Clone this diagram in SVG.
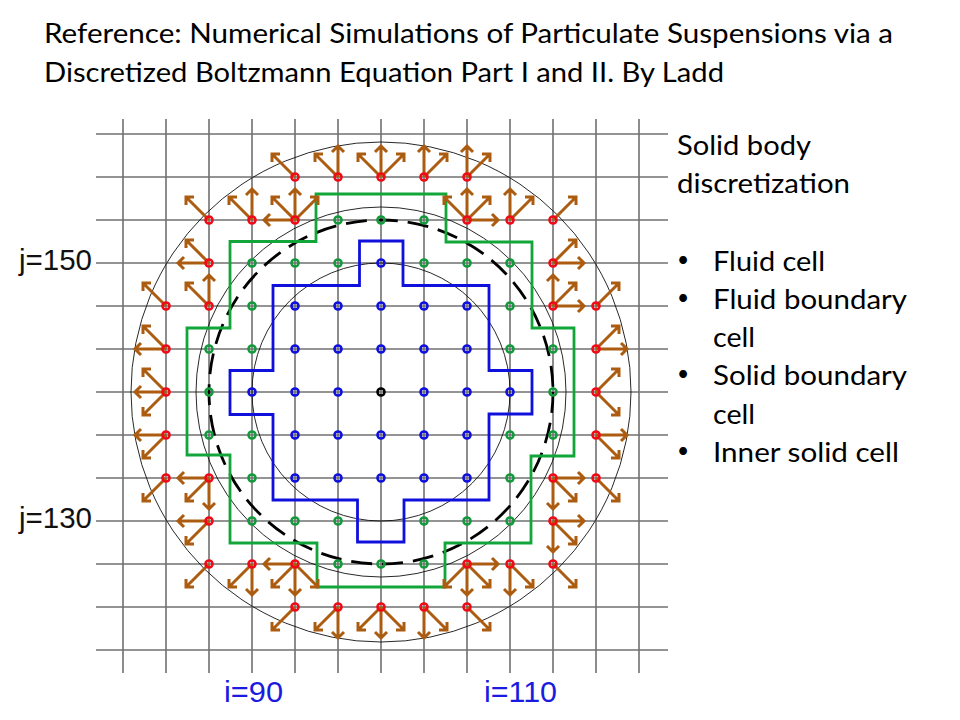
<svg xmlns="http://www.w3.org/2000/svg" width="960" height="720" viewBox="0 0 960 720">
<style>
.bg{fill:#fff}
.grid line{stroke:#707070;stroke-width:1.6}
.c{fill:none;stroke:#111;stroke-width:.9}
.dash{fill:none;stroke:#000;stroke-width:2.8;stroke-dasharray:21 10}
.pg{fill:none;stroke:#12a53a;stroke-width:2.8}
.pb{fill:none;stroke:#1010dc;stroke-width:2.8}
.a{fill:none;stroke:#ac5c10;stroke-width:3}
.n circle{fill:none;stroke-width:2.6}
.r circle{stroke:#f00a18}
.g circle{stroke:#14993c}
.b circle{stroke:#1010dc}
.k circle{stroke:#000}
.t{font-family:"Lato","Liberation Sans",sans-serif;font-size:27px;fill:#000}
.d{font-family:"Lato","Liberation Sans",sans-serif;font-size:21px;fill:#000}
.l{font-family:"Liberation Sans",Arial,sans-serif;font-size:30px}
.lk{fill:#111}
.lb{fill:#1a1ae0}
</style>
<defs>
<path id="E" class="a" d="M0 0H31M25-6L31 0L25 6"/>
<path id="W" class="a" d="M0 0H-31M-25-6L-31 0L-25 6"/>
<path id="N" class="a" d="M0 0V-31M-6-25L0-31L6-25"/>
<path id="S" class="a" d="M0 0V31M-6 25L0 31L6 25"/>
<path id="NE" class="a" d="M0 0L23-23M15-23H23V-15"/>
<path id="NW" class="a" d="M0 0L-23-23M-15-23H-23V-15"/>
<path id="SE" class="a" d="M0 0L23 23M15 23H23V15"/>
<path id="SW" class="a" d="M0 0L-23 23M-15 23H-23V15"/>
</defs>
<rect class="bg" width="960" height="720"/>
<g id="grid" class="grid">
<line x1="123" y1="119" x2="123" y2="673"/><line x1="166" y1="119" x2="166" y2="673"/><line x1="209" y1="119" x2="209" y2="673"/><line x1="252" y1="119" x2="252" y2="673"/><line x1="295" y1="119" x2="295" y2="673"/><line x1="338" y1="119" x2="338" y2="673"/><line x1="381" y1="119" x2="381" y2="673"/><line x1="424" y1="119" x2="424" y2="673"/><line x1="467" y1="119" x2="467" y2="673"/><line x1="510" y1="119" x2="510" y2="673"/><line x1="553" y1="119" x2="553" y2="673"/><line x1="596" y1="119" x2="596" y2="673"/><line x1="639" y1="119" x2="639" y2="673"/>
<line x1="96" y1="134" x2="668" y2="134"/><line x1="96" y1="177" x2="668" y2="177"/><line x1="96" y1="220" x2="668" y2="220"/><line x1="96" y1="263" x2="668" y2="263"/><line x1="96" y1="306" x2="668" y2="306"/><line x1="96" y1="349" x2="668" y2="349"/><line x1="96" y1="392" x2="668" y2="392"/><line x1="96" y1="435" x2="668" y2="435"/><line x1="96" y1="478" x2="668" y2="478"/><line x1="96" y1="521" x2="668" y2="521"/><line x1="96" y1="564" x2="668" y2="564"/><line x1="96" y1="607" x2="668" y2="607"/><line x1="96" y1="650" x2="668" y2="650"/>
</g>
<g id="circles">
<circle class="c" cx="381" cy="392" r="250"/>
<circle class="c" cx="381" cy="392" r="185"/>
<circle class="c" cx="381" cy="392" r="129"/>
<circle class="dash" cx="381" cy="392" r="172"/>
</g>
<path id="boundary-green" class="pg" d="M316 194H446V242H532V328H574V456H531V543H445V587H317V543H230V455H187V328H230V241.500H316Z"/>
<path id="boundary-blue" class="pb" d="M359.500 241H403V285.500H489V370.500H532V414H489V500H404V542H357.500V500H273V414.500H230V370.500H273V285.500H359.500Z"/>
<g id="connectors">
<use href="#NW" x="295" y="177"/>
<use href="#NW" x="338" y="177"/><use href="#N" x="338" y="177"/>
<use href="#NW" x="381" y="177"/><use href="#N" x="381" y="177"/><use href="#NE" x="381" y="177"/>
<use href="#N" x="424" y="177"/><use href="#NE" x="424" y="177"/>
<use href="#N" x="467" y="177"/><use href="#NE" x="467" y="177"/>
<use href="#NW" x="209" y="220"/>
<use href="#NW" x="252" y="220"/><use href="#N" x="252" y="220"/>
<use href="#W" x="295" y="220"/><use href="#NW" x="295" y="220"/><use href="#N" x="295" y="220"/><use href="#NE" x="295" y="220"/>
<use href="#NW" x="467" y="220"/><use href="#N" x="467" y="220"/><use href="#NE" x="467" y="220"/><use href="#E" x="467" y="220"/>
<use href="#N" x="510" y="220"/><use href="#NE" x="510" y="220"/>
<use href="#NE" x="553" y="220"/>
<use href="#NW" x="209" y="263"/><use href="#W" x="209" y="263"/>
<use href="#NE" x="553" y="263"/><use href="#E" x="553" y="263"/>
<use href="#NW" x="166" y="306"/>
<use href="#NW" x="209" y="306"/><use href="#N" x="209" y="306"/>
<use href="#N" x="553" y="306"/><use href="#NE" x="553" y="306"/><use href="#E" x="553" y="306"/>
<use href="#NE" x="596" y="306"/>
<use href="#NW" x="166" y="349"/><use href="#W" x="166" y="349"/>
<use href="#NE" x="596" y="349"/><use href="#E" x="596" y="349"/>
<use href="#NW" x="166" y="392"/><use href="#W" x="166" y="392"/><use href="#SW" x="166" y="392"/>
<use href="#NE" x="596" y="392"/><use href="#SE" x="596" y="392"/>
<use href="#W" x="166" y="435"/><use href="#SW" x="166" y="435"/>
<use href="#E" x="596" y="435"/><use href="#SE" x="596" y="435"/>
<use href="#SW" x="166" y="478"/>
<use href="#W" x="209" y="478"/><use href="#SW" x="209" y="478"/><use href="#S" x="209" y="478"/>
<use href="#E" x="553" y="478"/><use href="#SE" x="553" y="478"/><use href="#S" x="553" y="478"/>
<use href="#SE" x="596" y="478"/>
<use href="#W" x="209" y="521"/><use href="#SW" x="209" y="521"/>
<use href="#E" x="553" y="521"/><use href="#SE" x="553" y="521"/><use href="#S" x="553" y="521"/>
<use href="#SW" x="209" y="564"/>
<use href="#SW" x="252" y="564"/><use href="#S" x="252" y="564"/>
<use href="#W" x="295" y="564"/><use href="#SW" x="295" y="564"/><use href="#S" x="295" y="564"/><use href="#SE" x="295" y="564"/>
<use href="#SW" x="467" y="564"/><use href="#S" x="467" y="564"/><use href="#SE" x="467" y="564"/><use href="#E" x="467" y="564"/>
<use href="#S" x="510" y="564"/><use href="#SE" x="510" y="564"/>
<use href="#SE" x="553" y="564"/>
<use href="#SW" x="295" y="607"/>
<use href="#SW" x="338" y="607"/><use href="#S" x="338" y="607"/>
<use href="#SW" x="381" y="607"/><use href="#S" x="381" y="607"/><use href="#SE" x="381" y="607"/>
<use href="#S" x="424" y="607"/><use href="#SE" x="424" y="607"/>
<use href="#SE" x="467" y="607"/>
</g>
<g id="nodes-fluid">
<g id="r295-177" class="n r"><circle cx="295" cy="177" r="3.500"/></g>
<g id="r338-177" class="n r"><circle cx="338" cy="177" r="3.500"/></g>
<g id="r381-177" class="n r"><circle cx="381" cy="177" r="3.500"/></g>
<g id="r424-177" class="n r"><circle cx="424" cy="177" r="3.500"/></g>
<g id="r467-177" class="n r"><circle cx="467" cy="177" r="3.500"/></g>
<g id="r209-220" class="n r"><circle cx="209" cy="220" r="3.500"/></g>
<g id="r252-220" class="n r"><circle cx="252" cy="220" r="3.500"/></g>
<g id="r295-220" class="n r"><circle cx="295" cy="220" r="3.500"/></g>
<g id="r467-220" class="n r"><circle cx="467" cy="220" r="3.500"/></g>
<g id="r510-220" class="n r"><circle cx="510" cy="220" r="3.500"/></g>
<g id="r553-220" class="n r"><circle cx="553" cy="220" r="3.500"/></g>
<g id="r209-263" class="n r"><circle cx="209" cy="263" r="3.500"/></g>
<g id="r553-263" class="n r"><circle cx="553" cy="263" r="3.500"/></g>
<g id="r166-306" class="n r"><circle cx="166" cy="306" r="3.500"/></g>
<g id="r209-306" class="n r"><circle cx="209" cy="306" r="3.500"/></g>
<g id="r553-306" class="n r"><circle cx="553" cy="306" r="3.500"/></g>
<g id="r596-306" class="n r"><circle cx="596" cy="306" r="3.500"/></g>
<g id="r166-349" class="n r"><circle cx="166" cy="349" r="3.500"/></g>
<g id="r596-349" class="n r"><circle cx="596" cy="349" r="3.500"/></g>
<g id="r166-392" class="n r"><circle cx="166" cy="392" r="3.500"/></g>
<g id="r596-392" class="n r"><circle cx="596" cy="392" r="3.500"/></g>
<g id="r166-435" class="n r"><circle cx="166" cy="435" r="3.500"/></g>
<g id="r596-435" class="n r"><circle cx="596" cy="435" r="3.500"/></g>
<g id="r166-478" class="n r"><circle cx="166" cy="478" r="3.500"/></g>
<g id="r209-478" class="n r"><circle cx="209" cy="478" r="3.500"/></g>
<g id="r553-478" class="n r"><circle cx="553" cy="478" r="3.500"/></g>
<g id="r596-478" class="n r"><circle cx="596" cy="478" r="3.500"/></g>
<g id="r209-521" class="n r"><circle cx="209" cy="521" r="3.500"/></g>
<g id="r553-521" class="n r"><circle cx="553" cy="521" r="3.500"/></g>
<g id="r209-564" class="n r"><circle cx="209" cy="564" r="3.500"/></g>
<g id="r252-564" class="n r"><circle cx="252" cy="564" r="3.500"/></g>
<g id="r295-564" class="n r"><circle cx="295" cy="564" r="3.500"/></g>
<g id="r467-564" class="n r"><circle cx="467" cy="564" r="3.500"/></g>
<g id="r510-564" class="n r"><circle cx="510" cy="564" r="3.500"/></g>
<g id="r553-564" class="n r"><circle cx="553" cy="564" r="3.500"/></g>
<g id="r295-607" class="n r"><circle cx="295" cy="607" r="3.500"/></g>
<g id="r338-607" class="n r"><circle cx="338" cy="607" r="3.500"/></g>
<g id="r381-607" class="n r"><circle cx="381" cy="607" r="3.500"/></g>
<g id="r424-607" class="n r"><circle cx="424" cy="607" r="3.500"/></g>
<g id="r467-607" class="n r"><circle cx="467" cy="607" r="3.500"/></g>
</g>
<g id="nodes-boundary">
<g id="g338-220" class="n g"><circle cx="338" cy="220" r="3.500"/></g>
<g id="g381-220" class="n g"><circle cx="381" cy="220" r="3.500"/></g>
<g id="g424-220" class="n g"><circle cx="424" cy="220" r="3.500"/></g>
<g id="g252-263" class="n g"><circle cx="252" cy="263" r="3.500"/></g>
<g id="g295-263" class="n g"><circle cx="295" cy="263" r="3.500"/></g>
<g id="g338-263" class="n g"><circle cx="338" cy="263" r="3.500"/></g>
<g id="g424-263" class="n g"><circle cx="424" cy="263" r="3.500"/></g>
<g id="g467-263" class="n g"><circle cx="467" cy="263" r="3.500"/></g>
<g id="g510-263" class="n g"><circle cx="510" cy="263" r="3.500"/></g>
<g id="g252-306" class="n g"><circle cx="252" cy="306" r="3.500"/></g>
<g id="g510-306" class="n g"><circle cx="510" cy="306" r="3.500"/></g>
<g id="g209-349" class="n g"><circle cx="209" cy="349" r="3.500"/></g>
<g id="g252-349" class="n g"><circle cx="252" cy="349" r="3.500"/></g>
<g id="g510-349" class="n g"><circle cx="510" cy="349" r="3.500"/></g>
<g id="g553-349" class="n g"><circle cx="553" cy="349" r="3.500"/></g>
<g id="g209-392" class="n g"><circle cx="209" cy="392" r="3.500"/></g>
<g id="g553-392" class="n g"><circle cx="553" cy="392" r="3.500"/></g>
<g id="g209-435" class="n g"><circle cx="209" cy="435" r="3.500"/></g>
<g id="g252-435" class="n g"><circle cx="252" cy="435" r="3.500"/></g>
<g id="g510-435" class="n g"><circle cx="510" cy="435" r="3.500"/></g>
<g id="g553-435" class="n g"><circle cx="553" cy="435" r="3.500"/></g>
<g id="g252-478" class="n g"><circle cx="252" cy="478" r="3.500"/></g>
<g id="g510-478" class="n g"><circle cx="510" cy="478" r="3.500"/></g>
<g id="g252-521" class="n g"><circle cx="252" cy="521" r="3.500"/></g>
<g id="g295-521" class="n g"><circle cx="295" cy="521" r="3.500"/></g>
<g id="g338-521" class="n g"><circle cx="338" cy="521" r="3.500"/></g>
<g id="g424-521" class="n g"><circle cx="424" cy="521" r="3.500"/></g>
<g id="g467-521" class="n g"><circle cx="467" cy="521" r="3.500"/></g>
<g id="g510-521" class="n g"><circle cx="510" cy="521" r="3.500"/></g>
<g id="g338-564" class="n g"><circle cx="338" cy="564" r="3.500"/></g>
<g id="g381-564" class="n g"><circle cx="381" cy="564" r="3.500"/></g>
<g id="g424-564" class="n g"><circle cx="424" cy="564" r="3.500"/></g>
</g>
<g id="nodes-solid">
<g id="b381-263" class="n b"><circle cx="381" cy="263" r="3.500"/></g>
<g id="b295-306" class="n b"><circle cx="295" cy="306" r="3.500"/></g>
<g id="b338-306" class="n b"><circle cx="338" cy="306" r="3.500"/></g>
<g id="b381-306" class="n b"><circle cx="381" cy="306" r="3.500"/></g>
<g id="b424-306" class="n b"><circle cx="424" cy="306" r="3.500"/></g>
<g id="b467-306" class="n b"><circle cx="467" cy="306" r="3.500"/></g>
<g id="b295-349" class="n b"><circle cx="295" cy="349" r="3.500"/></g>
<g id="b338-349" class="n b"><circle cx="338" cy="349" r="3.500"/></g>
<g id="b381-349" class="n b"><circle cx="381" cy="349" r="3.500"/></g>
<g id="b424-349" class="n b"><circle cx="424" cy="349" r="3.500"/></g>
<g id="b467-349" class="n b"><circle cx="467" cy="349" r="3.500"/></g>
<g id="b252-392" class="n b"><circle cx="252" cy="392" r="3.500"/></g>
<g id="b295-392" class="n b"><circle cx="295" cy="392" r="3.500"/></g>
<g id="b338-392" class="n b"><circle cx="338" cy="392" r="3.500"/></g>
<g id="k381-392" class="n k"><circle cx="381" cy="392" r="3.500"/></g>
<g id="b424-392" class="n b"><circle cx="424" cy="392" r="3.500"/></g>
<g id="b467-392" class="n b"><circle cx="467" cy="392" r="3.500"/></g>
<g id="b510-392" class="n b"><circle cx="510" cy="392" r="3.500"/></g>
<g id="b295-435" class="n b"><circle cx="295" cy="435" r="3.500"/></g>
<g id="b338-435" class="n b"><circle cx="338" cy="435" r="3.500"/></g>
<g id="b381-435" class="n b"><circle cx="381" cy="435" r="3.500"/></g>
<g id="b424-435" class="n b"><circle cx="424" cy="435" r="3.500"/></g>
<g id="b467-435" class="n b"><circle cx="467" cy="435" r="3.500"/></g>
<g id="b295-478" class="n b"><circle cx="295" cy="478" r="3.500"/></g>
<g id="b338-478" class="n b"><circle cx="338" cy="478" r="3.500"/></g>
<g id="b381-478" class="n b"><circle cx="381" cy="478" r="3.500"/></g>
<g id="b424-478" class="n b"><circle cx="424" cy="478" r="3.500"/></g>
<g id="b467-478" class="n b"><circle cx="467" cy="478" r="3.500"/></g>
</g>
<g id="axis-labels">
<text class="l lk" x="19" y="270" textLength="73" lengthAdjust="spacingAndGlyphs">j=150</text>
<text class="l lk" x="19" y="528" textLength="73" lengthAdjust="spacingAndGlyphs">j=130</text>
<text class="l lb" x="224" y="702" textLength="59" lengthAdjust="spacingAndGlyphs">i=90</text>
<text class="l lb" x="484" y="702" textLength="73" lengthAdjust="spacingAndGlyphs">i=110</text>
</g>
<g id="title">
<text class="t" x="44" y="43" textLength="849" lengthAdjust="spacingAndGlyphs">Reference: Numerical Simulations of Particulate Suspensions via a</text>
<text class="t" x="44" y="82" textLength="680" lengthAdjust="spacingAndGlyphs">Discretized Boltzmann Equation Part I and II. By Ladd</text>
</g>
<g id="legend">
<text class="t" x="677" y="155" textLength="134" lengthAdjust="spacingAndGlyphs">Solid body</text>
<text class="t" x="677" y="193" textLength="173" lengthAdjust="spacingAndGlyphs">discretization</text>
<text class="d" x="677" y="267">•</text>
<text class="t" x="713" y="271" textLength="112" lengthAdjust="spacingAndGlyphs">Fluid cell</text>
<text class="d" x="677" y="305">•</text>
<text class="t" x="713" y="309" textLength="194" lengthAdjust="spacingAndGlyphs">Fluid boundary</text>
<text class="t" x="713" y="347" textLength="42" lengthAdjust="spacingAndGlyphs">cell</text>
<text class="d" x="677" y="381">•</text>
<text class="t" x="713" y="385" textLength="194" lengthAdjust="spacingAndGlyphs">Solid boundary</text>
<text class="t" x="713" y="424" textLength="42" lengthAdjust="spacingAndGlyphs">cell</text>
<text class="d" x="677" y="458">•</text>
<text class="t" x="713" y="462" textLength="186" lengthAdjust="spacingAndGlyphs">Inner solid cell</text>
</g>
</svg>
